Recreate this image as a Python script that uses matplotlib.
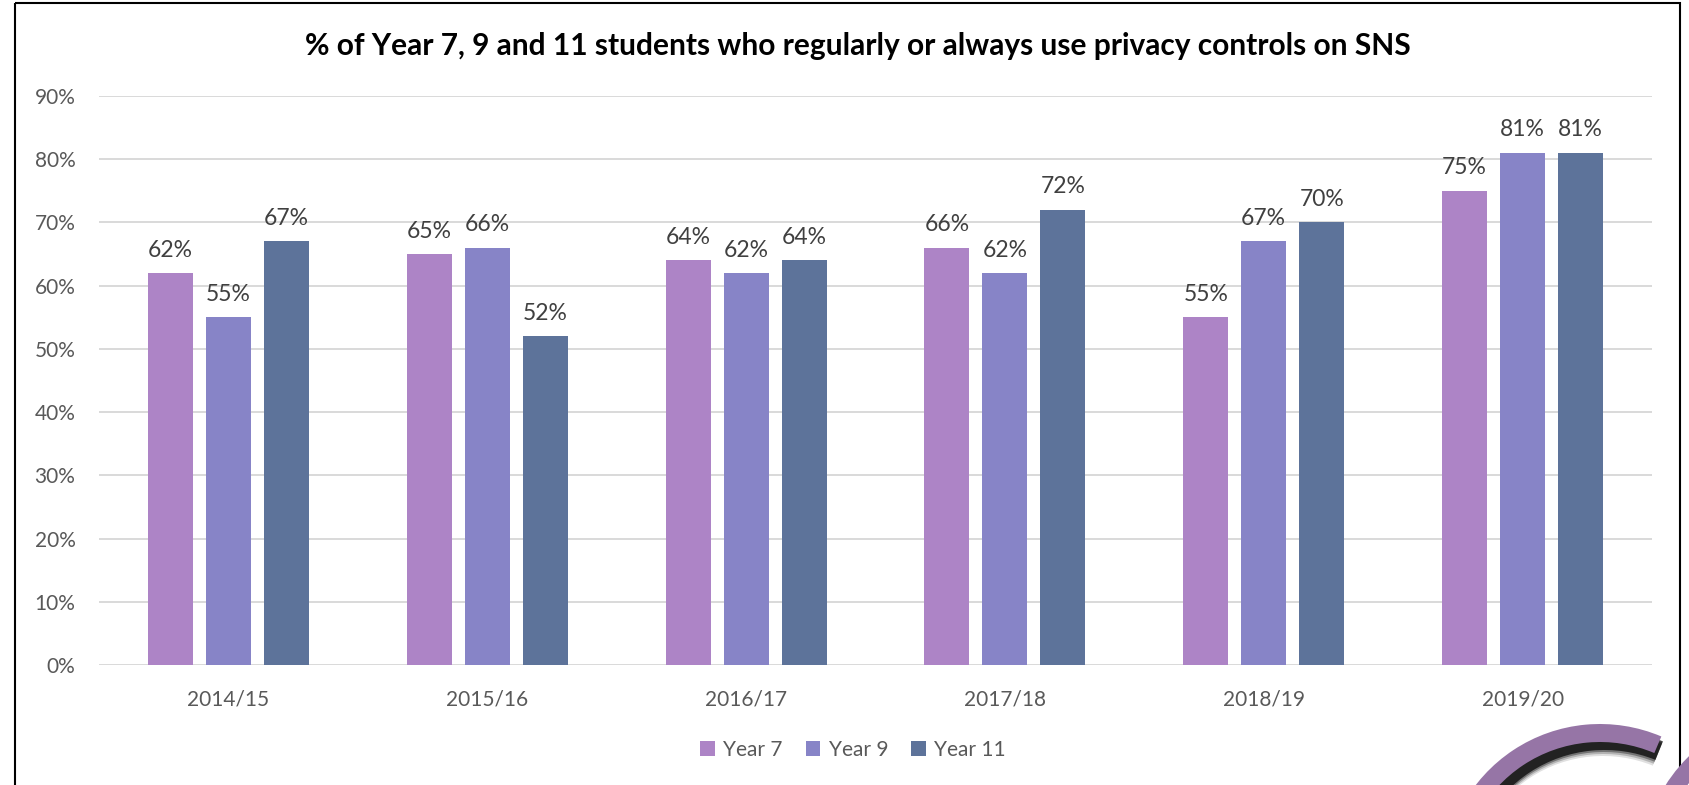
import matplotlib.pyplot as plt
import numpy as np
from matplotlib.patches import Rectangle, Wedge
from matplotlib.ticker import FuncFormatter

plt.rcParams['font.family'] = ['Lato', 'DejaVu Sans']

years = ['2014/15', '2015/16', '2016/17', '2017/18', '2018/19', '2019/20']
series_names = ['Year 7', 'Year 9', 'Year 11']
year_7 = [62, 65, 64, 66, 55, 75]
year_9 = [55, 66, 62, 62, 67, 81]
year_11 = [67, 52, 64, 72, 70, 81]
colors = ['#AD84C6', '#8784C7', '#5D739A']

W, H = 1689, 785
fig = plt.figure(figsize=(W / 100, H / 100), dpi=100)
ax = fig.add_axes([99 / W, 120 / H, (1652 - 99) / W, (665 - 96) / H])

x = np.arange(len(years))
bar_w = 0.174
step = 0.224
handles = []
for i, (name, vals, col) in enumerate(zip(series_names, [year_7, year_9, year_11], colors)):
    bars = ax.bar(x + (i - 1) * step, vals, bar_w, color=col, label=name, zorder=2)
    ax.bar_label(bars, labels=[f'{v}%' for v in vals], padding=9,
                 fontsize=16.5, color='#404040')
    handles.append(bars)

ax.set_xlim(-0.5, len(years) - 0.5)
ax.set_ylim(0, 90)
ax.set_yticks(range(0, 91, 10))
ax.yaxis.set_major_formatter(FuncFormatter(lambda v, _: f'{v:.0f}%'))
ax.set_xticks(x)
ax.set_xticklabels(years)
ax.tick_params(axis='y', length=0, pad=17, labelsize=15, labelcolor='#595959')
ax.tick_params(axis='x', length=0, pad=18, labelsize=15, labelcolor='#595959')
ax.yaxis.grid(True, color='#D9D9D9', lw=1.4)
ax.set_axisbelow(True)
for s in ax.spines.values():
    s.set_visible(False)

fig.text(858 / W, 1 - 46 / H, '% of Year 7, 9 and 11 students who regularly or always use privacy controls on SNS',
         ha='center', va='center', fontsize=21.5, fontweight='bold', color='black')

fig.legend(handles, series_names, loc='center', bbox_to_anchor=(853 / W, 1 - 750 / H),
           ncol=3, frameon=False, fontsize=15, labelcolor='#595959',
           handlelength=0.7, handleheight=0.7, handletextpad=0.4, columnspacing=1.1)

# border and corner swoosh, drawn in pixel coordinates
ov = fig.add_axes([0, 0, 1, 1], zorder=5)
ov.set_xlim(0, W)
ov.set_ylim(H, 0)
ov.axis('off')
ov.add_patch(Rectangle((15, 3), 1665, 900, fill=False, ec='black', lw=1.5))
for k, a in enumerate([0.12, 0.2, 0.35, 0.7]):
    ov.add_patch(Wedge((1603 + k * 0.5, 889 - k), 156, 182, 292, width=19 + 4 - k,
                       fc='black', ec='none', alpha=a))
ov.add_patch(Wedge((1600, 881), 157, 180, 293, width=18, fc='#9675A6', ec='none'))
ov.add_patch(Wedge((1800, 870), 159, 190, 260, width=18, fc='#9675A6', ec='none'))

fig.savefig('out.png', dpi=100)
